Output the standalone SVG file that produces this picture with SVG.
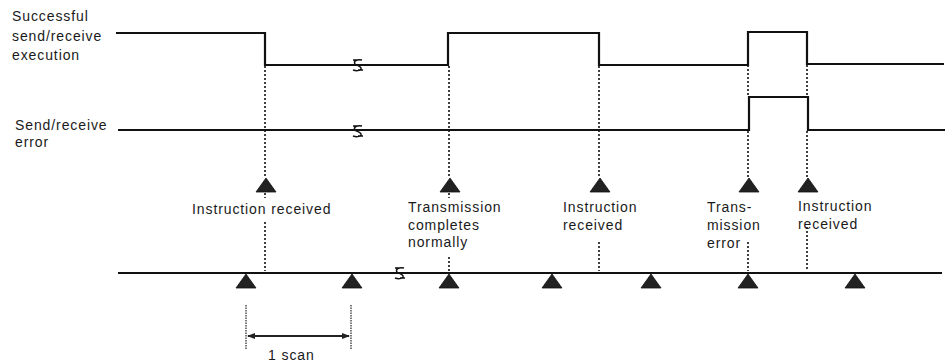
<svg xmlns="http://www.w3.org/2000/svg" width="949" height="363" viewBox="0 0 949 363">
<style>
text{font-family:"Liberation Sans",Arial,sans-serif;font-size:14px;letter-spacing:0.9px;fill:#1a1a1a}
.sig{fill:none;stroke:#111;stroke-width:2.2;stroke-linejoin:miter}
.dot{fill:none;stroke:#111;stroke-width:1.6;stroke-dasharray:2 2}
.dim{fill:none;stroke:#222;stroke-width:1.2;stroke-dasharray:1.5 1}
.tri{fill:#222;stroke:#111;stroke-width:0.8}
.brk{fill:none;stroke:#111;stroke-width:1.5}
</style>
<defs>
<path id="triU" class="tri" d="M0,0 L10,14 L-10,14 Z"/>
<g id="brk"><path class="brk" d="M4,-5 C-1,-6 -5,-4 -3,-1 C-1,1 4,1 3,4 C2,6 -2,6 -5,5 M-5,-5 H0 M0,5 H5"/></g>
<marker id="arr" viewBox="0 0 8 8" refX="7" refY="4" markerWidth="8" markerHeight="8" orient="auto-start-reverse" markerUnits="userSpaceOnUse">
<path d="M0,1 L8,4 L0,7 Z" fill="#222"/>
</marker>
</defs>

<g id="label-success">
<text x="12" y="21">Successful</text>
<text x="12" y="41">send/receive</text>
<text x="12" y="60">execution</text>
</g>
<g id="label-error">
<text x="15" y="130">Send/receive</text>
<text x="15" y="147">error</text>
</g>

<g id="signal-success">
<path class="sig" d="M116,33 H265 V65 H448 V33 H599 V65 H748 V32 H807 V64 H944"/>
<use href="#brk" x="358" y="65"/>
</g>
<g id="signal-error">
<path class="sig" d="M118,130 H749 V97 H808 V130 H945"/>
<use href="#brk" x="358" y="131"/>
</g>
<g id="scan-line">
<path class="sig" d="M118,273 H942"/>
<use href="#brk" x="400" y="273"/>
</g>

<g id="connectors">
<path class="dot" d="M265,66 V178 M265,193 V198 M265,222 V271"/>
<path class="dot" d="M449,66 V178 M449,193 V198 M449,257 V271"/>
<path class="dot" d="M599,66 V178 M599,242 V271"/>
<path class="dot" d="M748,65 V97 M748,131 V178 M748,242 V271"/>
<path class="dot" d="M807,65 V97 M807,131 V178 M807,227 V271"/>
</g>

<g id="event-triangles">
<use href="#triU" x="266" y="178"/>
<use href="#triU" x="450" y="178"/>
<use href="#triU" x="600" y="178"/>
<use href="#triU" x="749" y="178"/>
<use href="#triU" x="808" y="178"/>
</g>
<g id="scan-triangles">
<use href="#triU" x="246" y="274"/>
<use href="#triU" x="352" y="274"/>
<use href="#triU" x="449" y="274"/>
<use href="#triU" x="552" y="274"/>
<use href="#triU" x="651" y="274"/>
<use href="#triU" x="748" y="274"/>
<use href="#triU" x="855" y="274"/>
</g>

<g id="ev-instr1">
<text x="192" y="214">Instruction received</text>
</g>
<g id="ev-tx-normal">
<text x="408" y="212">Transmission</text>
<text x="408" y="230">completes</text>
<text x="408" y="247">normally</text>
</g>
<g id="ev-instr2">
<text x="563" y="212">Instruction</text>
<text x="563" y="230">received</text>
</g>
<g id="ev-tx-error">
<text x="707" y="212">Trans-</text>
<text x="707" y="230">mission</text>
<text x="707" y="248">error</text>
</g>
<g id="ev-instr3">
<text x="798" y="211">Instruction</text>
<text x="798" y="229">received</text>
</g>

<g id="scan-dimension">
<path class="dim" d="M246,305 V349 M351,305 V349"/>
<path d="M248,336 H349" stroke="#222" stroke-width="1.8" fill="none" marker-start="url(#arr)" marker-end="url(#arr)"/>
<text x="268" y="360">1 scan</text>
</g>
</svg>
